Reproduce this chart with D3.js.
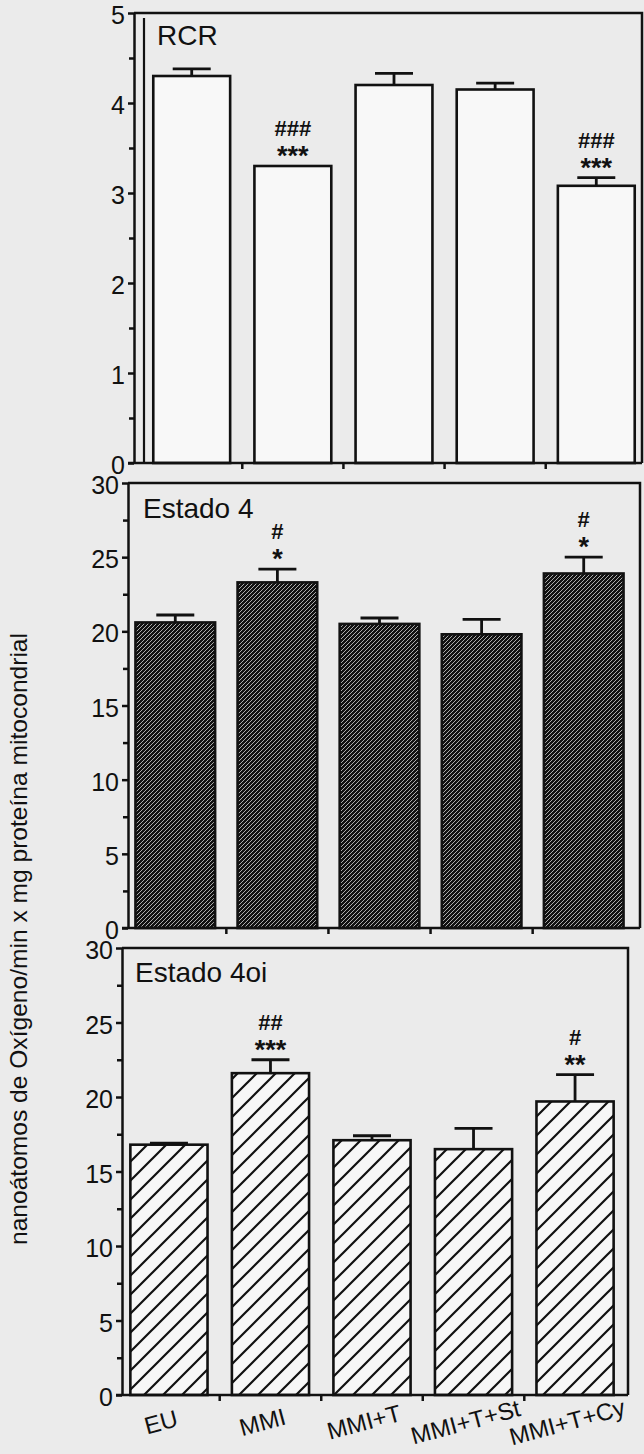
<!DOCTYPE html>
<html>
<head>
<meta charset="utf-8">
<script src="https://cdn.jsdelivr.net/npm/d3@7"></script>
<style>
  body { margin: 0; background: #ebebeb; }
  svg { display: block; font-family: "Liberation Sans", Arial, Helvetica, sans-serif; }
</style>
</head>
<body>
<div id="chart"></div>
<script>
// data
const categories = ["EU", "MMI", "MMI+T", "MMI+T+St", "MMI+T+Cy"];

const rcrValues = [4.3, 3.3, 4.2, 4.15, 3.08];
const rcrErrors = [0.08, 0, 0.13, 0.07, 0.09];
const rcrHash = ["", "###", "", "", "###"];
const rcrStars = ["", "***", "", "", "***"];

const e4Values = [20.6, 23.3, 20.5, 19.8, 23.9];
const e4Errors = [0.5, 0.9, 0.4, 1.0, 1.1];
const e4Hash = ["", "#", "", "", "#"];
const e4Stars = ["", "*", "", "", "*"];

const e4oiValues = [16.8, 21.6, 17.1, 16.5, 19.7];
const e4oiErrors = [0.1, 0.9, 0.3, 1.4, 1.8];
const e4oiHash = ["", "##", "", "", "#"];
const e4oiStars = ["", "***", "", "", "**"];

const rcrTicks = [0, 1, 2, 3, 4, 5];
const estadoTicks = [0, 5, 10, 15, 20, 25, 30];

const yLabel = "nanoátomos de Oxígeno/min x mg proteína mitocondrial";

const W = 644, H = 1454;

const svg = d3.select("#chart")
  .append("svg")
  .attr("width", W)
  .attr("height", H);

const defs = svg.append("defs");

// dense dark hatch (Estado 4)
let dense = defs.append("pattern")
  .attr("id", "dense")
  .attr("patternUnits", "userSpaceOnUse")
  .attr("width", 4)
  .attr("height", 4);
dense.append("rect").attr("width", 4).attr("height", 4).attr("fill", "#111");
dense.append("path")
  .attr("d", "M-1,1 l2,-2 M0,4 l4,-4 M3,5 l2,-2")
  .attr("stroke", "#bdbdbd")
  .attr("stroke-width", 0.9);

// open hatch (Estado 4oi)
let hatch = defs.append("pattern")
  .attr("id", "hatch")
  .attr("patternUnits", "userSpaceOnUse")
  .attr("width", 19)
  .attr("height", 19);
hatch.append("rect").attr("width", 19).attr("height", 19).attr("fill", "#f7f7f7");
hatch.append("path")
  .attr("d", "M-2,2 l4,-4 M0,19 l19,-19 M17,21 l4,-4")
  .attr("stroke", "#111")
  .attr("stroke-width", 2.2);

const panels = [
  { title: "RCR", values: rcrValues, errors: rcrErrors, hash: rcrHash, stars: rcrStars,
    max: 5, ticks: rcrTicks, minor: 0.5, fill: "#f8f8f8", innerLeft: 144,
    left: 134, right: 642, top: 13, bottom: 463, band: [129, 659], pad: 0.24, titleDx: 23, titleDy: 32 },
  { title: "Estado 4", values: e4Values, errors: e4Errors, hash: e4Hash, stars: e4Stars,
    max: 30, ticks: estadoTicks, minor: 2.5, fill: "url(#dense)", innerLeft: null,
    left: 128, right: 640, top: 483, bottom: 928, band: [113, 646], pad: 0.22, titleDx: 15, titleDy: 35 },
  { title: "Estado 4oi", values: e4oiValues, errors: e4oiErrors, hash: e4oiHash, stars: e4oiStars,
    max: 30, ticks: estadoTicks, minor: 2.5, fill: "url(#hatch)", innerLeft: null,
    left: 122, right: 628, top: 948, bottom: 1395, band: [106, 638], pad: 0.24, titleDx: 13, titleDy: 34 }
];

panels.forEach((p, pi) => {
  let x = d3.scaleBand().domain(categories).range(p.band).padding(p.pad);
  let y = d3.scaleLinear().domain([0, p.max]).range([p.bottom, p.top]);
  let g = svg.append("g");

  let rows = categories.map((c, i) => ({
    cat: c, v: p.values[i], e: p.errors[i], hash: p.hash[i], stars: p.stars[i]
  }));

  // frame: top and right
  g.append("path")
    .attr("d", "M" + p.left + "," + p.top + "H" + p.right + "V" + p.bottom)
    .attr("fill", "none")
    .attr("stroke", "#111")
    .attr("stroke-width", 2.5);

  // second inner left edge seen in the top panel
  if (p.innerLeft) {
    g.append("line")
      .attr("x1", p.innerLeft).attr("x2", p.innerLeft)
      .attr("y1", p.top + 5).attr("y2", p.bottom)
      .attr("stroke", "#111")
      .attr("stroke-width", 2.2);
  }

  // bars
  g.selectAll(".bar")
    .data(rows)
    .enter()
    .append("rect")
    .attr("class", "bar")
    .attr("x", (d) => x(d.cat))
    .attr("width", x.bandwidth())
    .attr("y", (d) => y(d.v))
    .attr("height", (d) => y(0) - y(d.v))
    .attr("fill", p.fill)
    .attr("stroke", "#111")
    .attr("stroke-width", 2.6);

  // error bars, upper half only
  let eb = rows.filter((d) => d.e > 0);
  g.selectAll(".err")
    .data(eb)
    .enter()
    .append("path")
    .attr("class", "err")
    .attr("d", (d) => {
      let cx = x(d.cat) + x.bandwidth() / 2;
      return "M" + cx + "," + y(d.v) + "V" + y(d.v + d.e) +
        "M" + (cx - 19) + "," + y(d.v + d.e) + "H" + (cx + 19);
    })
    .attr("fill", "none")
    .attr("stroke", "#111")
    .attr("stroke-width", 2.8);

  // significance marks
  let marked = rows.filter((d) => d.stars);
  g.selectAll(".stars")
    .data(marked)
    .enter()
    .append("text")
    .attr("class", "stars")
    .attr("x", (d) => x(d.cat) + x.bandwidth() / 2)
    .attr("y", (d) => y(d.v + d.e) - 16 + 15)
    .attr("text-anchor", "middle")
    .attr("font-size", 27)
    .attr("font-weight", "bold")
    .attr("fill", "#111")
    .text((d) => d.stars);

  g.selectAll(".hash")
    .data(marked)
    .enter()
    .append("text")
    .attr("class", "hash")
    .attr("x", (d) => x(d.cat) + x.bandwidth() / 2)
    .attr("y", (d) => y(d.v + d.e) - 38 + 8)
    .attr("text-anchor", "middle")
    .attr("font-size", 22)
    .attr("font-weight", "bold")
    .attr("fill", "#111")
    .text((d) => d.hash);

  // y axis
  let minorTicks = d3.range(p.minor, p.max, p.minor * 2);
  let yMinor = g.append("g")
    .attr("transform", "translate(" + p.left + ",0)")
    .call(d3.axisLeft(y).tickValues(minorTicks).tickSize(5).tickFormat(""));
  yMinor.select(".domain").remove();

  let yAxis = g.append("g")
    .attr("transform", "translate(" + p.left + ",0)")
    .call(d3.axisLeft(y).tickValues(p.ticks).tickSize(6).tickSizeOuter(0)
      .tickPadding(3).tickFormat(d3.format("d")));
  yAxis.selectAll("text")
    .attr("font-size", 25)
    .attr("dy", "0.42em")
    .attr("font-family", "Liberation Sans, Arial, sans-serif")
    .attr("fill", "#111");

  g.selectAll(".tick line").attr("stroke", "#111").attr("stroke-width", 2.5);
  yAxis.select(".domain").attr("stroke", "#111").attr("stroke-width", 2.5);

  // x axis line with ticks between bars
  g.append("line")
    .attr("x1", p.left - 6)
    .attr("x2", p.right)
    .attr("y1", y(0))
    .attr("y2", y(0))
    .attr("stroke", "#111")
    .attr("stroke-width", 2.5);

  let step = x.step();
  g.selectAll(".xtick")
    .data(categories.slice(1))
    .enter()
    .append("line")
    .attr("class", "xtick")
    .attr("x1", (c) => x(c) - step * p.pad / 2)
    .attr("x2", (c) => x(c) - step * p.pad / 2)
    .attr("y1", y(0))
    .attr("y2", y(0) + 6)
    .attr("stroke", "#111")
    .attr("stroke-width", 2.5);

  // panel title
  g.append("text")
    .attr("x", p.left + p.titleDx)
    .attr("y", p.top + p.titleDy)
    .attr("font-size", 28)
    .attr("fill", "#111")
    .text(p.title);

  // category labels only under the last panel
  if (pi === panels.length - 1) {
    g.selectAll(".cat")
      .data(categories)
      .enter()
      .append("text")
      .attr("class", "cat")
      .attr("transform", (c) =>
        "translate(" + (x(c) + x.bandwidth() / 2 - 8) + "," + (y(0) + 27) + ") rotate(-15)")
      .attr("text-anchor", "middle")
      .attr("dy", "0.35em")
      .attr("font-size", 24)
      .attr("fill", "#111")
      .text((c) => c);
  }
});

// shared y label
svg.append("text")
  .attr("transform", "translate(19,939) rotate(-90)")
  .attr("text-anchor", "middle")
  .attr("dy", "0.35em")
  .attr("font-size", 24)
  .attr("textLength", 612)
  .attr("lengthAdjust", "spacingAndGlyphs")
  .attr("fill", "#111")
  .text(yLabel);
</script>
</body>
</html>
